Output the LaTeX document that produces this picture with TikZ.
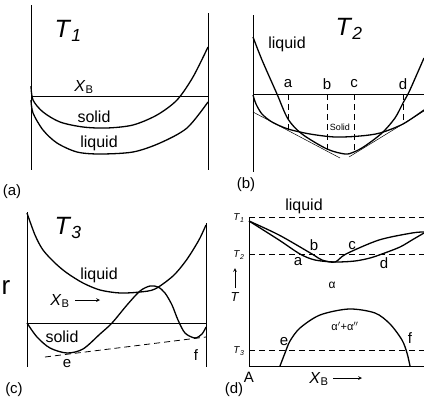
\documentclass[tikz,border=0pt]{standalone}
\usepackage{fontspec}
\setmainfont{Liberation Sans}
\usepackage{tikz}
\usetikzlibrary{positioning, arrows}

\newcommand{\xsub}{\textit{X}\textsubscript{B}}
\newcommand{\tsub}[1]{\textit{T}\textsubscript{\textit{#1}}}

\tikzset{
  curve/.style={line width=1.3pt},
  frame/.style={line width=0.8pt},
  tangent/.style={line width=0.5pt},
  guide/.style={line width=0.8pt, dash pattern=on 6pt off 4pt},
  word/.style={inner sep=0pt, font=\fontsize{16}{18}\selectfont},
  lbl/.style={inner sep=0pt, font=\fontsize{15}{17}\selectfont},
  big/.style={inner sep=0pt, font=\fontsize{25}{28}\selectfont},
  small/.style={inner sep=0pt, font=\fontsize{10}{12}\selectfont}
}

\begin{document}
\begin{tikzpicture}[>=stealth, x=1pt, y=-1pt]
  \useasboundingbox[fill=white] (0,0) rectangle (424,397);

  % (a)
  \draw[frame] (31,5) -- (31,170);
  \draw[frame] (208,13) -- (208,170);
  \draw[frame] (31,96) -- (208,96);
  \draw[curve] plot[smooth] coordinates {(31,86) (33,100) (43,112) (60,122) (83,127) (107,128) (133,125) (157,115) (177,100) (193,77) (208,47)};
  \draw[curve] plot[smooth] coordinates {(31,100) (33,113) (43,130) (57,143) (77,152) (100,154) (133,152) (160,143) (187,128) (208,102)};
  \node[big] (ta) at (68,31) {\tsub{1}};
  \node[word] (xba) at (84,87) {\xsub};
  \node[word] (sola) at (94,117) {solid};
  \node[word] (liqa) at (99,143) {liquid};
  \node[lbl] (capa) at (12,192) {(a)};

  % (b)
  \draw[frame] (253,15) -- (253,172);
  \draw[frame] (253,94) -- (424,94);
  \draw[curve] plot[smooth] coordinates {(253,37) (262,60) (277,94) (288,119) (302,134) (327,149) (345,154) (354,152) (365,146) (382,133) (395,118) (403,103) (409,92) (417,74) (424,58)};
  \draw[curve] plot[smooth] coordinates {(253,95) (256,104) (262,114) (272,122) (288,129) (310,134) (335,137) (360,136) (380,133) (403,124) (424,110)};
  \coordinate (tl1) at (253,112);
  \coordinate (tl2) at (340,158);
  \coordinate (tr1) at (349,157);
  \coordinate (tr2) at (424,111);
  \draw[tangent] (tl1) -- (tl2);
  \draw[tangent] (tr1) -- (tr2);
  \foreach \name/\px/\py in {a/288/129, b/327/149, c/354/152, d/403/124} {
    \coordinate (top\name) at (\px,94);
    \coordinate (bot\name) at (\px,\py);
    \draw[guide] (top\name) -- (bot\name);
    \node[lbl] (lab\name) at (\px,84) {\name};
  }
  \node[big] (tb) at (349,29) {\tsub{2}};
  \node[word] (liqb) at (287,44) {liquid};
  \node[inner sep=0pt, font=\fontsize{9}{10}\selectfont] (solb) at (340,127) {Solid};
  \node[lbl] (capb) at (246,185) {(b)};

  % (c)
  \draw[frame] (27,212) -- (27,367);
  \draw[frame] (206,223) -- (206,367);
  \draw[frame] (27,323) -- (206,323);
  \draw[curve] plot[smooth] coordinates {(27,213) (35,235) (43,250) (55,263) (67,273) (83,283) (100,290) (120,293) (140,292) (155,289) (173,276) (185,262) (193,250) (200,238) (206,225)};
  \draw[curve] plot[smooth] coordinates {(27,323) (37,337) (50,348) (67,353) (83,349) (100,334) (112,323) (127,305) (140,291) (150,286) (158,287) (165,293) (172,305) (178,320) (185,333) (195,338) (202,334) (206,327)};
  \coordinate (ce1) at (45,357);
  \coordinate (ce2) at (206,337);
  \draw[guide] (ce1) -- (ce2);
  \node[big] (tc) at (68,228) {\tsub{3}};
  \node[inner sep=0pt, font=\fontsize{26}{28}\selectfont] (gr) at (6,288) {r};
  \node[word] (liqc) at (99,275) {liquid};
  \node[word] (xbc) at (60,301) {\xsub};
  \coordinate (xc1) at (75,300);
  \coordinate (xc2) at (100,300);
  \draw[->, line width=0.7pt] (xc1) -- (xc2);
  \node[word] (solc) at (62,337) {solid};
  \node[lbl] (labe) at (67,364) {e};
  \node[lbl] (labf) at (196,355) {f};
  \node[lbl] (capc) at (14,390) {(c)};

  % (d)
  \draw[frame] (249,217) -- (249,366) -- (424,366);
  \foreach \k/\py in {1/217, 2/254, 3/350} {
    \coordinate (dl\k) at (249,\py);
    \coordinate (dr\k) at (424,\py);
    \draw[guide] (dl\k) -- (dr\k);
    \node[small] (tick\k) at (239,\py+1) {\tsub{\k}};
  }
  \draw[curve] plot[smooth] coordinates {(249,221) (279,235) (312,254) (322,260) (335,262) (346,254) (379,240) (412,233) (424,232)};
  \draw[curve] plot[smooth] coordinates {(249,221) (279,240) (300,254) (315,260) (335,262) (355,261) (370,258) (382,254) (400,247) (412,240) (424,233)};
  \draw[curve] plot[smooth] coordinates {(280,366) (285,353) (290,341) (300,328) (320,315) (349,309) (375,313) (390,324) (402,340) (407,353) (410,366)};
  \node[word] (liqd) at (304,206) {liquid};
  \node[lbl] (labdb) at (314,245) {b};
  \node[lbl] (labdc) at (352,246) {c};
  \node[lbl] (labda) at (298,262) {a};
  \node[lbl] (labdd) at (384,263) {d};
  \node[lbl] (labde) at (284,342) {e};
  \node[lbl] (labdf) at (410,338) {f};
  \node[inner sep=0pt, font=\fontsize{12}{14}\selectfont] (alpha) at (332,285) {α};
  \node[inner sep=0pt, font=\fontsize{11}{13}\selectfont] (alpha2) at (345,326) {α$'$+α$''$};
  \coordinate (ta1) at (235,288);
  \coordinate (ta2) at (235,268);
  \draw[->, line width=0.7pt] (ta1) -- (ta2);
  \node[inner sep=0pt, font=\fontsize{13}{15}\selectfont] (tax) at (235,297) {\textit{T}};
  \node[lbl] (ad) at (249,377) {A};
  \node[word] (xbd) at (319,379) {\xsub};
  \coordinate (xd1) at (333,378);
  \coordinate (xd2) at (362,378);
  \draw[->, line width=0.7pt] (xd1) -- (xd2);
  \node[lbl] (capd) at (234,390) {(d)};
\end{tikzpicture}
\end{document}
